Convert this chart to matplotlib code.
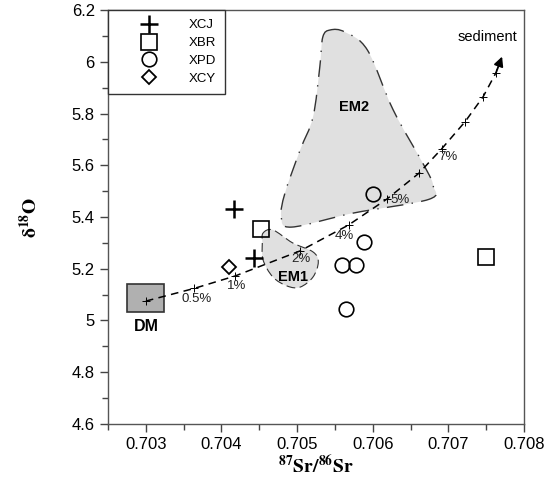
import numpy as np
import matplotlib
matplotlib.use("Agg")
import matplotlib.pyplot as plt
from matplotlib.path import Path
from matplotlib.patches import PathPatch, Rectangle
from matplotlib.lines import Line2D

plt.rcParams['font.family'] = ['Liberation Sans', 'DejaVu Sans']
plt.rcParams['mathtext.fontset'] = 'stix'

# sample groups (87Sr/86Sr, d18O)
xcj_x = [0.70417, 0.70443]
xcj_y = [5.43, 5.24]
xbr_x = [0.70452, 0.70750]
xbr_y = [5.355, 5.245]
xpd_x = [0.70600, 0.70589, 0.70559, 0.70578, 0.70564]
xpd_y = [5.49, 5.305, 5.215, 5.215, 5.045]
xcy_x = [0.70410]
xcy_y = [5.205]

# DM end-member box (x0, x1, y0, y1)
dm_box = (0.70275, 0.70324, 5.032, 5.141)

# mixing curve DM -> sediment
mix_x = [0.70300, 0.70364, 0.70418, 0.70504, 0.70568, 0.70619, 0.70661,
         0.70691, 0.70722, 0.70746, 0.70763]
mix_y = [5.075, 5.124, 5.172, 5.269, 5.369, 5.470, 5.569,
         5.663, 5.768, 5.865, 5.958]
arrow_tip = (0.70771, 6.02)
pct_labels = ['0.5%', '1%', '2%', '4%', '5%', '7%']
pct_x = [0.70367, 0.70420, 0.70505, 0.70563, 0.70636, 0.70700]
pct_y = [5.082, 5.133, 5.238, 5.327, 5.466, 5.630]

# EM2 and EM1 outlines
em2_x = [0.70544, 0.70534, 0.70530, 0.70521, 0.70504, 0.70484, 0.70479,
         0.70493, 0.70574, 0.70674, 0.70680, 0.70669, 0.70627, 0.70593, 0.70563]
em2_y = [6.123, 6.096, 5.980, 5.786, 5.659, 5.493, 5.400,
         5.361, 5.415, 5.468, 5.520, 5.593, 5.814, 6.045, 6.115]
em1_x = [0.70455, 0.70468, 0.70494, 0.70521, 0.70528, 0.70521, 0.70504,
         0.70487, 0.70468, 0.70455, 0.70454]
em1_y = [5.338, 5.350, 5.300, 5.265, 5.226, 5.168, 5.129,
         5.133, 5.168, 5.234, 5.300]


def smooth_closed(xs, ys):
    # closed Catmull-Rom outline as cubic Bezier path
    p = np.column_stack([xs, ys])
    n = len(p)
    verts = [p[0]]
    codes = [Path.MOVETO]
    for i in range(n):
        p0, p1, p2, p3 = p[i - 1], p[i], p[(i + 1) % n], p[(i + 2) % n]
        verts += [p1 + (p2 - p0) / 6, p2 - (p3 - p1) / 6, p2]
        codes += [Path.CURVE4] * 3
    return Path(verts, codes)


fig = plt.figure(figsize=(5.52, 4.93), dpi=100)
ax = fig.add_axes([0.1957, 0.14, 0.7536, 0.8397])

ax.add_patch(PathPatch(smooth_closed(em2_x, em2_y), facecolor='#e0e0e0',
                       edgecolor='#333333', lw=1.0, ls=(0, (12, 6, 1, 6)), zorder=1))
ax.add_patch(PathPatch(smooth_closed(em1_x, em1_y), facecolor='#e0e0e0',
                       edgecolor='#333333', lw=0.8, ls=(0, (8, 4)), zorder=1))
ax.add_patch(Rectangle((dm_box[0], dm_box[2]), dm_box[1] - dm_box[0],
                       dm_box[3] - dm_box[2], facecolor='#b0b0b0',
                       edgecolor='#333333', lw=1.2, zorder=2))

# mixing curve with tick marks
ax.plot(mix_x, mix_y, color='black', ls=(0, (5, 3.5)), lw=1.1,
        marker='+', ms=6, mew=0.7, zorder=3)
ax.annotate('', xy=arrow_tip, xytext=(mix_x[-1], mix_y[-1]),
            arrowprops=dict(arrowstyle='-|>', color='black', lw=1.3,
                            mutation_scale=14, shrinkA=0, shrinkB=0), zorder=3)
for t, x, y in zip(pct_labels, pct_x, pct_y):
    ax.text(x, y, t, fontsize=9.5, ha='center', va='center', color='#222222', zorder=4)

ax.text(0.70751, 6.097, 'sediment', fontsize=10.5, ha='center', va='center')
ax.text(0.70575, 5.826, 'EM2', fontsize=10.5, fontweight='bold', ha='center', va='center')
ax.text(0.70495, 5.167, 'EM1', fontsize=10.5, fontweight='bold', ha='center', va='center')
ax.text(0.70301, 4.976, 'DM', fontsize=11.5, fontweight='bold', ha='center', va='center')

# samples
ax.plot(xcj_x, xcj_y, ls='none', marker='+', ms=13, mew=1.8, color='black', zorder=5)
ax.plot(xbr_x, xbr_y, ls='none', marker='s', ms=11, mew=1.2, mfc='none', mec='black', zorder=5)
ax.plot(xpd_x, xpd_y, ls='none', marker='o', ms=10.5, mew=1.2, mfc='none', mec='black', zorder=5)
ax.plot(xcy_x, xcy_y, ls='none', marker='D', ms=7.5, mew=1.3, mfc='none', mec='black', zorder=5)

handles = [
    Line2D([], [], ls='none', marker='+', ms=13, mew=1.8, color='black'),
    Line2D([], [], ls='none', marker='s', ms=11, mew=1.2, mfc='none', mec='black'),
    Line2D([], [], ls='none', marker='o', ms=10.5, mew=1.2, mfc='none', mec='black'),
    Line2D([], [], ls='none', marker='D', ms=7.5, mew=1.3, mfc='none', mec='black'),
]
leg = ax.legend(handles, ['XCJ', 'XBR', 'XPD', 'XCY'], loc='upper left',
                fontsize=9.5, frameon=True, fancybox=False, borderaxespad=0,
                handlelength=4.8, handletextpad=0.6, labelspacing=0.42,
                borderpad=0.7)
leg.get_frame().set_edgecolor('#333333')
leg.get_frame().set_linewidth(1.0)
leg.get_frame().set_alpha(1)

ax.set_xlim(0.7025, 0.708)
ax.set_ylim(4.6, 6.2)
ax.set_xticks([0.703, 0.704, 0.705, 0.706, 0.707, 0.708])
ax.set_xticklabels(['0.703', '0.704', '0.705', '0.706', '0.707', '0.708'])
ax.set_xticks(np.arange(0.7025, 0.70801, 0.0005), minor=True)
ax.set_yticks([4.6, 4.8, 5.0, 5.2, 5.4, 5.6, 5.8, 6.0, 6.2])
ax.set_yticklabels(['4.6', '4.8', '5', '5.2', '5.4', '5.6', '5.8', '6', '6.2'])
ax.set_yticks(np.arange(4.6, 6.21, 0.1), minor=True)
ax.tick_params(which='both', direction='out', labelsize=12, color='#444444')
ax.tick_params(which='major', length=6, width=1)
ax.tick_params(which='minor', length=4, width=1)
for s in ax.spines.values():
    s.set_color('#555555')
    s.set_linewidth(1.0)

ax.set_xlabel(r'$^{\mathbf{87}}\mathbf{Sr/}^{\mathbf{86}}\mathbf{Sr}$', fontsize=14, labelpad=1)
ax.set_ylabel(r'$\mathbf{\delta}^{\mathbf{18}}\mathbf{O}$', fontsize=14, labelpad=22)

fig.savefig('out.png', dpi=100)
